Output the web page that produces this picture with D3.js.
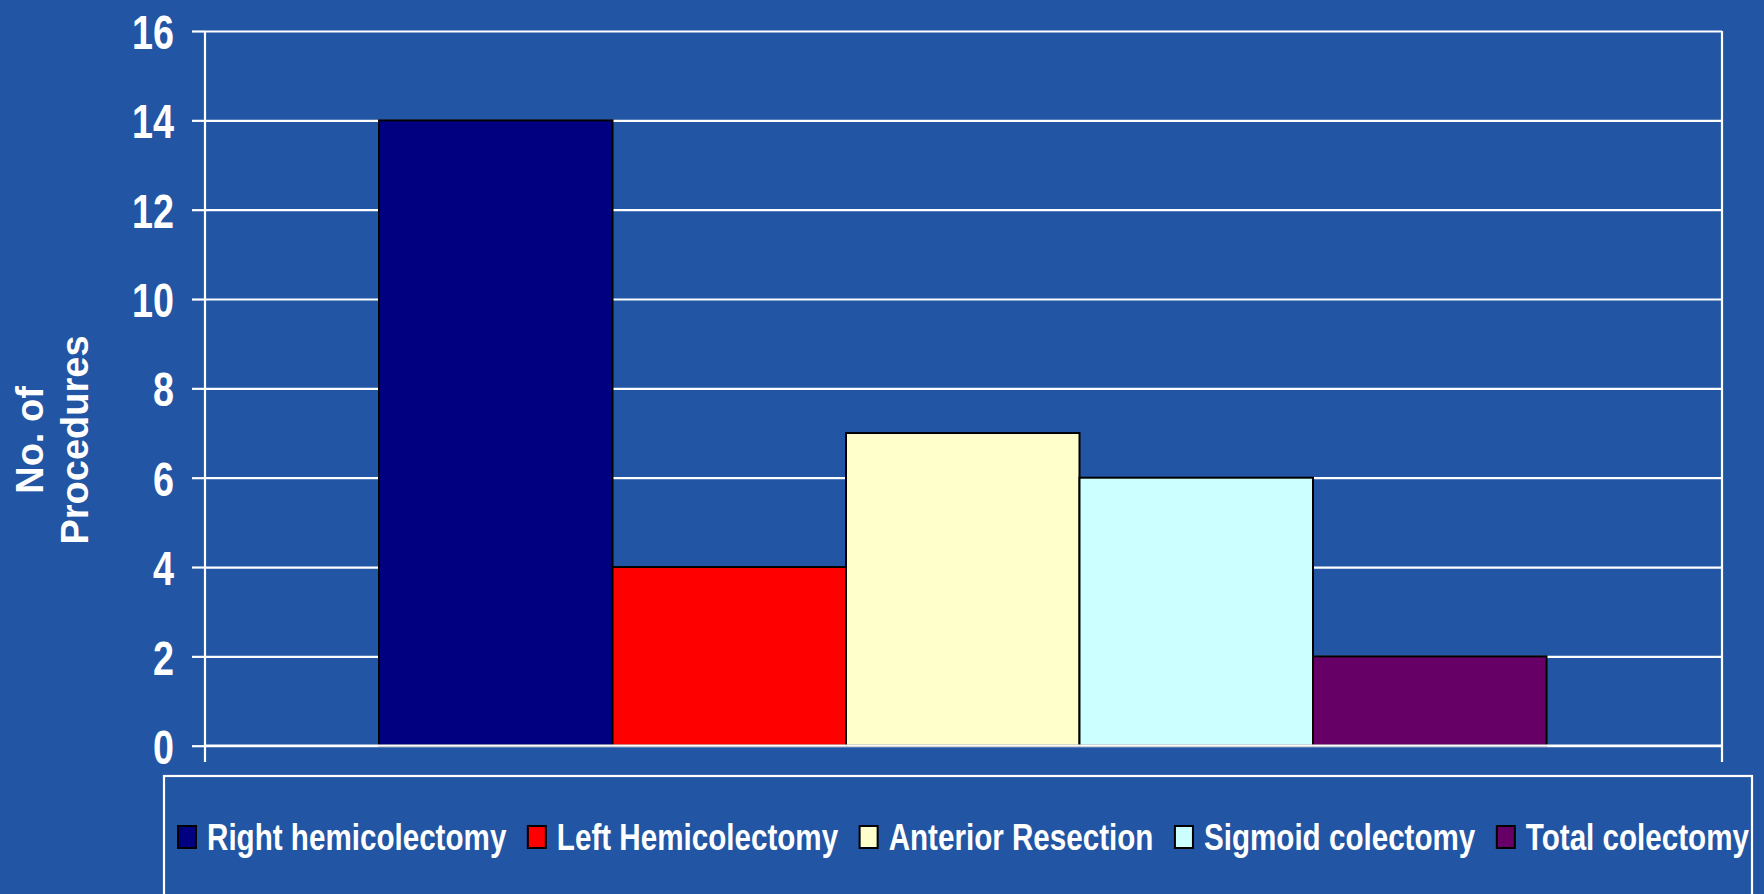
<!DOCTYPE html>
<html>
<head>
<meta charset="utf-8">
<script src="https://cdn.jsdelivr.net/npm/d3@7"></script>
<style>
  html, body { margin: 0; padding: 0; background: #2255a4; }
  svg { display: block; }
  text { font-family: "Liberation Sans", Arial, sans-serif; font-weight: bold; fill: #fff; }
</style>
</head>
<body>
<svg width="1764" height="894"></svg>
<script>
// chart data
var categories = ['Right hemicolectomy', 'Left Hemicolectomy', 'Anterior Resection', 'Sigmoid colectomy', 'Total colectomy'];
var values = [14, 4, 7, 6, 2];
var colors = ['#000080', '#ff0000', '#ffffcc', '#ccffff', '#660066'];
var yTicks = [0, 2, 4, 6, 8, 10, 12, 14, 16];
var yTitle = ['No. of', 'Procedures'];

var svg = d3.select('svg');
var plotL = 205, plotR = 1722, plotT = 31, plotB = 745.7;

var y = d3.scaleLinear().domain([0, 16]).range([plotB, plotT]);
var x = d3.scaleBand().domain(categories).range([plotL + 174, plotR - 175.5]).padding(0);

// grid lines
svg.append('g').attr('transform', 'translate(' + plotL + ',0)')
  .call(d3.axisLeft(y).tickValues(yTicks).tickSize(-(plotR - plotL)).tickFormat(''))
  .call(function(g) { g.select('.domain').remove(); })
  .selectAll('line').attr('stroke', '#fff').attr('stroke-width', 2.2);

// bars
svg.selectAll('rect.bar').data(values).enter().append('rect')
  .attr('class', 'bar')
  .attr('x', function(d, i) { return x(categories[i]); })
  .attr('y', function(d) { return y(d); })
  .attr('width', x.bandwidth())
  .attr('height', function(d) { return y(0) - y(d); })
  .attr('fill', function(d, i) { return colors[i]; })
  .attr('stroke', '#000').attr('stroke-width', 2);

// zero line over bars
svg.append('line').attr('x1', plotL).attr('x2', plotR).attr('y1', y(0)).attr('y2', y(0))
  .attr('stroke', '#fff').attr('stroke-width', 2.2);

// y axis
var yAxis = svg.append('g').attr('transform', 'translate(' + plotL + ',0)')
  .call(d3.axisLeft(y).tickValues(yTicks).tickSize(13).tickPadding(18));
yAxis.select('.domain').remove();
yAxis.selectAll('line').attr('stroke', '#fff').attr('stroke-width', 2.2);
yAxis.selectAll('text')
  .attr('fill', '#fff').attr('font-size', 49).attr('dy', '0.36em')
  .style('font-family', '"Liberation Sans", Arial, sans-serif').style('font-weight', 'bold')
  .each(function() {
    var w = this.getComputedTextLength();
    d3.select(this).attr('textLength', w * 0.77).attr('lengthAdjust', 'spacingAndGlyphs');
  });

// vertical frame lines (axis + right edge), extending below as x ticks
[plotL, plotR].forEach(function(xx) {
  svg.append('line').attr('x1', xx).attr('x2', xx).attr('y1', plotT).attr('y2', 762)
    .attr('stroke', '#fff').attr('stroke-width', 2.2);
});

// y title
var yt = svg.append('text').attr('transform', 'translate(43,440) rotate(-90)')
  .attr('text-anchor', 'middle').attr('font-size', 38);
yTitle.forEach(function(t, i) {
  yt.append('tspan').attr('x', 0).attr('dy', i === 0 ? 0 : 45).text(t);
});

// legend box
svg.append('rect').attr('x', 164).attr('y', 776).attr('width', 1752 - 164).attr('height', 200)
  .attr('fill', 'none').attr('stroke', '#fff').attr('stroke-width', 2.2);

var lx = 178;
categories.forEach(function(c, i) {
  svg.append('rect').attr('x', lx).attr('y', 826).attr('width', 18).attr('height', 22)
    .attr('fill', colors[i]).attr('stroke', '#000').attr('stroke-width', 2);
  var t = svg.append('text').attr('x', lx + 29).attr('y', 850).attr('font-size', 37).text(c);
  var w = t.node().getComputedTextLength() * 0.8;
  t.attr('textLength', w).attr('lengthAdjust', 'spacingAndGlyphs');
  lx += 29 + w + 21.5;
});
</script>
</body>
</html>
